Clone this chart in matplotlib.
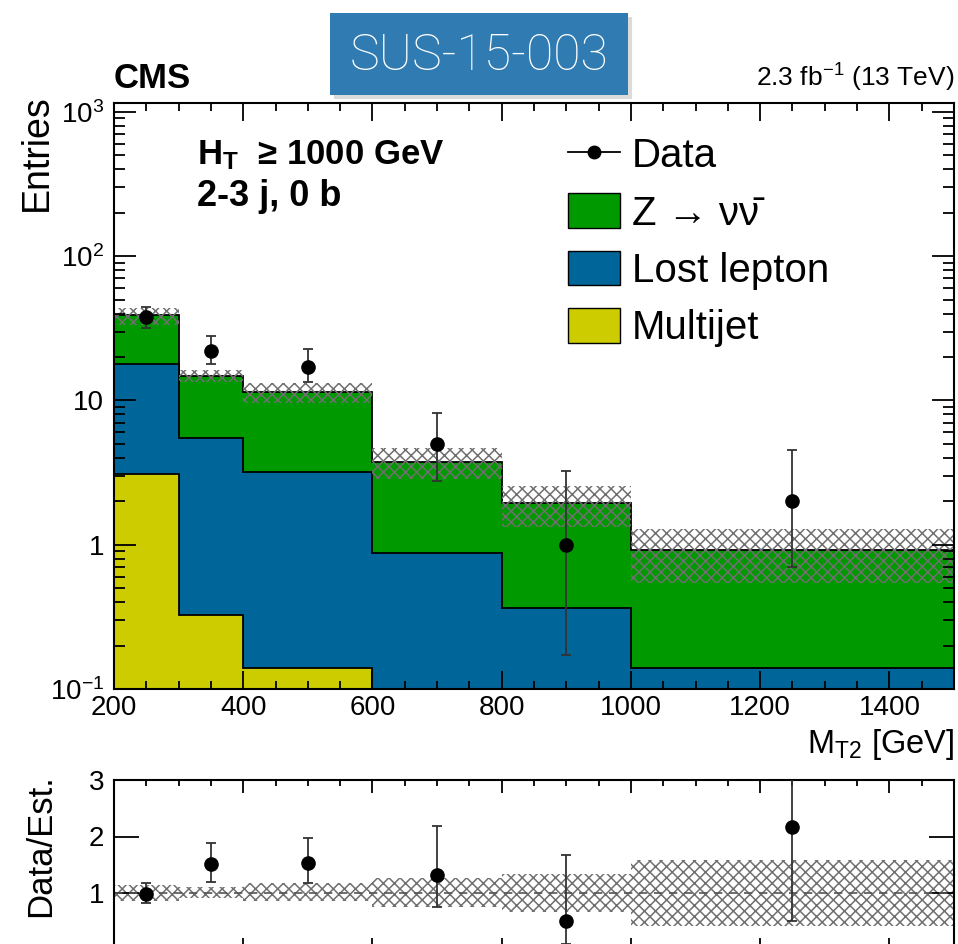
import numpy as np
import matplotlib
matplotlib.use("Agg")
import matplotlib.pyplot as plt
from matplotlib.lines import Line2D
from matplotlib.patches import Patch, Rectangle
from matplotlib.font_manager import FontProperties

plt.rcParams['font.family'] = ['Liberation Sans', 'DejaVu Sans']
plt.rcParams['mathtext.fontset'] = 'custom'
plt.rcParams['mathtext.rm'] = 'Liberation Sans'
plt.rcParams['mathtext.it'] = 'Liberation Sans:italic'
plt.rcParams['mathtext.bf'] = 'Liberation Sans:bold'
plt.rcParams['hatch.linewidth'] = 1.1

# binning in MT2 (GeV)
edges = np.array([200, 300, 400, 600, 800, 1000, 1500])
centers = np.array([250, 350, 500, 700, 900, 1250])

# stacked background estimates
multijet = np.array([3.09, 0.326, 0.139, 0.0, 0.0, 0.0])
lostlep = np.array([14.7, 5.13, 3.07, 0.876, 0.364, 0.139])
znunu = np.array([21.3, 9.34, 8.19, 2.88, 1.58, 0.78])

# total uncertainty band
unc_lo = np.array([33.3, 13.5, 9.55, 2.84, 1.33, 0.541])
unc_hi = np.array([43.5, 16.3, 13.1, 4.66, 2.55, 1.28])

# data with poisson errors
data = np.array([38, 22, 17, 5, 1, 2])
data_lo = np.array([31.6, 17.8, 13.5, 2.77, 0.172, 0.705])
data_hi = np.array([44.6, 27.9, 22.6, 8.15, 3.26, 4.53])

# ratio panel
ratio = np.array([0.98, 1.51, 1.53, 1.31, 0.51, 2.17])
ratio_lo = np.array([0.83, 1.20, 1.18, 0.76, 0.09, 0.51])
ratio_hi = np.array([1.17, 1.89, 1.98, 2.18, 1.67, 5.0])
rband_lo = np.array([0.86, 0.92, 0.85, 0.76, 0.67, 0.42])
rband_hi = np.array([1.14, 1.10, 1.17, 1.26, 1.33, 1.59])

green = '#009900'
blue = '#006699'
yellow = '#cccc00'
hatch_col = '#707070'

W, H = 958, 944
fig = plt.figure(figsize=(W / 100, H / 100), dpi=100)

def fx(px):
    return px / W

def fy(py):
    return (H - py) / H

ax1 = fig.add_axes([fx(114), fy(689), fx(954) - fx(114), fy(103) - fy(689)])
ax2 = fig.add_axes([fx(114), fy(949.5), fx(954) - fx(114), fy(780) - fy(949.5)])

ax1.set_yscale('log')
base = 1e-3
stack1 = multijet
stack2 = multijet + lostlep
stack3 = multijet + lostlep + znunu
ax1.stairs(stack3, edges, baseline=base, fill=True, facecolor=green, edgecolor='black', linewidth=1.3)
ax1.stairs(stack2, edges, baseline=base, fill=True, facecolor=blue, edgecolor='black', linewidth=1.3)
ax1.stairs(np.where(stack1 > 0, stack1, base), edges, baseline=base, fill=True,
           facecolor=yellow, edgecolor='black', linewidth=1.3)

ax1.bar(edges[:-1], unc_hi - unc_lo, width=np.diff(edges), bottom=unc_lo, align='edge',
        facecolor='none', edgecolor=hatch_col, hatch='xxx', linewidth=0)

ax1.errorbar(centers, data, yerr=[data - data_lo, data_hi - data], fmt='o', color='black',
             ecolor='#333333', ms=9.5, capsize=3.5, elinewidth=1.3, capthick=1.3, zorder=5)

ax1.set_xlim(200, 1500)
ax1.set_ylim(0.1, 10 ** (-1 + 586 / 144.3))
ax1.set_xticks(np.arange(200, 1500, 200))
ax1.set_xticks(np.arange(200, 1501, 50), minor=True)
ax1.set_yticks([0.1, 1, 10, 100, 1000])
ax1.set_yticklabels([r'$10^{-1}$', '1', '10', r'$10^{2}$', r'$10^{3}$'])
ax1.yaxis.set_minor_locator(matplotlib.ticker.LogLocator(base=10, subs=np.arange(2, 10), numticks=20))
ax1.yaxis.set_minor_formatter(matplotlib.ticker.NullFormatter())
ax1.tick_params(which='both', direction='in', top=True, right=True, labelsize=20, width=1.3)
ax1.tick_params(axis='y', which='major', length=16, pad=7)
ax1.tick_params(axis='y', which='minor', length=8)
ax1.tick_params(axis='x', which='major', length=13, pad=4)
ax1.tick_params(axis='x', which='minor', length=6)
for s in ax1.spines.values():
    s.set_linewidth(1.5)

handles = [
    Line2D([0], [0], color='black', marker='o', ms=9, lw=1.3),
    Patch(facecolor=green, edgecolor='black', lw=1.0),
    Patch(facecolor=blue, edgecolor='black', lw=1.0),
    Patch(facecolor=yellow, edgecolor='black', lw=1.0),
]
labels = ['Data', 'Z \u2192 \u03bd\u03bd\u0304', 'Lost lepton', 'Multijet']
lp = FontProperties(family=['Liberation Sans', 'DejaVu Sans'], size=29)
ax1.legend(handles, labels, loc='upper left', bbox_to_anchor=(fx(568), fy(136)),
           bbox_transform=fig.transFigure, prop=lp, frameon=False, handlelength=1.3,
           handleheight=0.95, labelspacing=0.45, handletextpad=0.28, borderpad=0, borderaxespad=0)

fig.text(fx(197), fy(155), r'H$_{\mathbf{T}}$  ≥ 1000 GeV', fontsize=25, fontweight='bold', va='center')
fig.text(fx(197), fy(197), '2-3 j, 0 b', fontsize=26, fontweight='bold', va='center')

# ratio panel
ax2.bar(edges[:-1], rband_hi - rband_lo, width=np.diff(edges), bottom=rband_lo, align='edge',
        facecolor='none', edgecolor=hatch_col, hatch='xxx', linewidth=0)
ax2.axhline(1, color='#555555', ls='--', lw=1.2, dashes=(5, 4))
ax2.errorbar(centers, ratio, yerr=[ratio - ratio_lo, ratio_hi - ratio], fmt='o', color='black',
             ecolor='#333333', ms=9.5, capsize=3.5, elinewidth=1.3, capthick=1.3, zorder=5)
ax2.set_xlim(200, 1500)
ax2.set_ylim(0, 3)
ax2.set_xticks(np.arange(200, 1500, 200))
ax2.set_xticks(np.arange(200, 1501, 50), minor=True)
ax2.set_yticks([1, 2, 3])
ax2.set_yticklabels(['1', '2', '3'])
ax2.tick_params(which='both', direction='in', top=True, right=True, labelsize=20, width=1.3, labelbottom=False)
ax2.tick_params(axis='y', which='major', length=18, pad=7)
ax2.tick_params(axis='x', which='major', length=9)
ax2.tick_params(axis='x', which='minor', length=4)
for s in ax2.spines.values():
    s.set_linewidth(1.5)

# labels and headers
fig.text(fx(37), fy(94), 'Entries', fontsize=27, rotation=90, ha='center', va='top')
fig.text(fx(41), fy(774), 'Data/Est.', fontsize=25, rotation=90, ha='center', va='top')
fig.text(fx(954), fy(745), r'M$_{\mathrm{T2}}$ [GeV]', fontsize=23.5, ha='right', va='center')
fig.text(fx(114), fy(78), 'CMS', fontsize=25, fontweight='bold', va='center')
fig.text(fx(954), fy(78), r'2.3 fb$^{-1}$ (13 TeV)', fontsize=19, ha='right', va='center')

# SUS label box
fig.patches.append(Rectangle((fx(334), fy(99)), fx(298), fy(13) - fy(95), transform=fig.transFigure,
                             facecolor='#999999', alpha=0.35, edgecolor='none', figure=fig))
fig.patches.append(Rectangle((fx(330), fy(95)), fx(298), fy(13) - fy(95), transform=fig.transFigure,
                             facecolor='#2f7bb2', edgecolor='none', figure=fig))
fig.text(fx(479), fy(56), 'SUS-15-003', fontsize=36, color='white', ha='center', va='center',
         family=['Roboto', 'DejaVu Sans'], fontweight='light')

fig.savefig('out.png', dpi=100)
